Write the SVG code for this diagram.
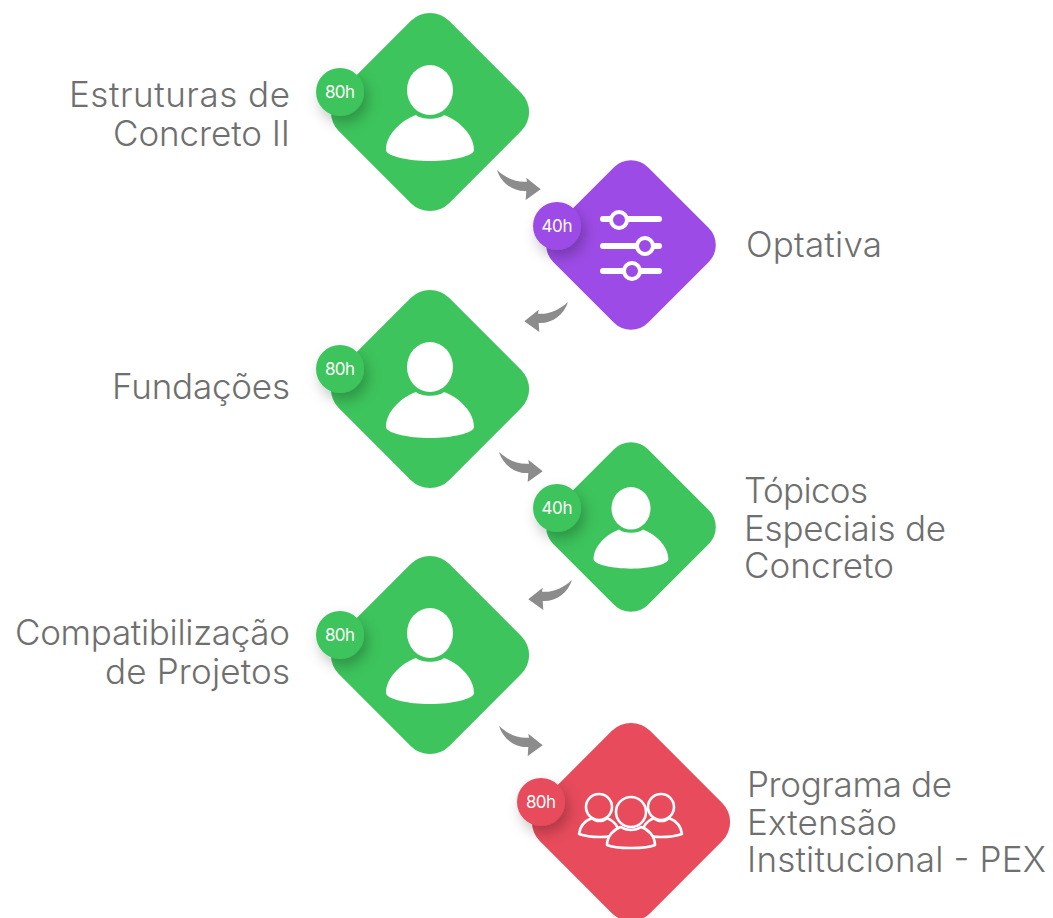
<svg xmlns="http://www.w3.org/2000/svg" xmlns:xlink="http://www.w3.org/1999/xlink" width="1053" height="918" viewBox="0 0 1053 918">
<style>
.lbl{font-family:"Inter","Liberation Sans",sans-serif;font-weight:300;font-size:35px;fill:#6f6f6f}
.r{text-anchor:end}
.bt{font-family:"Inter","Liberation Sans",sans-serif;font-weight:400;font-size:17px;fill:#fff;text-anchor:middle}
.green{fill:#3dc45c}.purple{fill:#9d4be6}.red{fill:#e84b5b}
.w{fill:#fff}
.sl{stroke:#fff;stroke-width:6;stroke-linecap:round;fill:none}
.kn{fill:#9d4be6;stroke:#fff;stroke-width:4}
.gp{stroke:#fff;stroke-width:2.6;fill:#e84b5b;stroke-linejoin:round}
</style>
<defs>
<filter id="sh" x="-50%" y="-50%" width="220%" height="220%"><feDropShadow dx="4" dy="7" stdDeviation="7" flood-color="#000" flood-opacity="0.25"/></filter>
<path id="arrow" fill="#8c8c8c" d="M0,0C9.3,8.3 19.3,12.7 30,11.7L29.3,7.7L43.7,19.3L28.7,30L29.3,21C16,21.7 4.3,13.3 0,0Z"/>
<g id="person">
<ellipse cx="0" cy="-22" rx="23" ry="25" class="w"/>
<path class="w" d="M-44,38C-44,22 -28,8 -14,3C-8,8 8,8 14,3C28,8 44,22 44,38C44,44 22,49 0,49C-22,49 -44,44 -44,38Z"/>
</g>
</defs>
<g id="connectors">
<use xlink:href="#arrow" href="#arrow" transform="translate(497,170)"/>
<use xlink:href="#arrow" href="#arrow" transform="translate(568,302) scale(-1,1)"/>
<use xlink:href="#arrow" href="#arrow" transform="translate(499,452)"/>
<use xlink:href="#arrow" href="#arrow" transform="translate(572,580) scale(-1,1)"/>
<use xlink:href="#arrow" href="#arrow" transform="translate(499,726)"/>
</g>
<g id="node-estruturas">
<rect class="green" x="-78" y="-78" width="156" height="156" rx="27" transform="translate(430,112) rotate(45)"/>
<use xlink:href="#person" href="#person" transform="translate(430,112)"/>
<circle class="green" cx="340" cy="92" r="24" filter="url(#sh)"/>
<text class="bt" x="340" y="98" textLength="30">80h</text>
<text class="lbl" x="69" y="107" textLength="221">Estruturas de</text>
<text class="lbl" x="113" y="146" textLength="177">Concreto II</text>
</g>
<g id="node-optativa">
<rect class="purple" x="-67" y="-67" width="134" height="134" rx="24" transform="translate(631,245) rotate(45)"/>
<path class="sl" d="M603,219H659M603,246H659M603,271H659"/>
<circle class="kn" cx="619" cy="220" r="8"/>
<circle class="kn" cx="645" cy="246" r="8"/>
<circle class="kn" cx="632" cy="271" r="8"/>
<circle class="purple" cx="557" cy="226" r="24" filter="url(#sh)"/>
<text class="bt" x="557" y="232" textLength="31">40h</text>
<text class="lbl" x="746" y="257" textLength="136">Optativa</text>
</g>
<g id="node-fundacoes">
<rect class="green" x="-78" y="-78" width="156" height="156" rx="27" transform="translate(430,389) rotate(45)"/>
<use xlink:href="#person" href="#person" transform="translate(430,389)"/>
<circle class="green" cx="340" cy="369" r="24" filter="url(#sh)"/>
<text class="bt" x="340" y="375" textLength="30">80h</text>
<text class="lbl" x="112" y="399" textLength="178">Fundações</text>
</g>
<g id="node-topicos">
<rect class="green" x="-67" y="-67" width="134" height="134" rx="24" transform="translate(631,527) rotate(45)"/>
<use xlink:href="#person" href="#person" transform="translate(631,527) scale(0.85)"/>
<circle class="green" cx="557" cy="508" r="24" filter="url(#sh)"/>
<text class="bt" x="557" y="514" textLength="31">40h</text>
<text class="lbl" x="744" y="503" textLength="124">Tópicos</text>
<text class="lbl" x="744" y="541" textLength="202">Especiais de</text>
<text class="lbl" x="744" y="578" textLength="150">Concreto</text>
</g>
<g id="node-compatibilizacao">
<rect class="green" x="-78" y="-78" width="156" height="156" rx="27" transform="translate(430,655) rotate(45)"/>
<use xlink:href="#person" href="#person" transform="translate(430,655)"/>
<circle class="green" cx="340" cy="635" r="24" filter="url(#sh)"/>
<text class="bt" x="340" y="641" textLength="30">80h</text>
<text class="lbl" x="15" y="645" textLength="275">Compatibilização</text>
<text class="lbl" x="105" y="684" textLength="185">de Projetos</text>
</g>
<g id="node-pex">
<rect class="red" x="-78" y="-78" width="156" height="156" rx="27" transform="translate(631,822) rotate(45)"/>
<g class="gp">
<circle cx="599" cy="807" r="13"/>
<circle cx="661" cy="807" r="13"/>
<path d="M579,834C580,825 587,820 592,818C596,822 603,822 607,818C612,820 618,825 620,834C610,838 590,838 579,834Z"/>
<path d="M682,834C681,825 674,820 669,818C665,822 658,822 654,818C649,820 643,825 641,834C651,838 671,838 682,834Z"/>
<circle cx="631" cy="812" r="15"/>
<path d="M607,845C607,836 614,829 621,827C627,831 635,831 641,827C648,829 655,836 655,845C647,849 615,849 607,845Z"/>
</g>
<circle class="red" cx="541" cy="802" r="24" filter="url(#sh)"/>
<text class="bt" x="541" y="808" textLength="30">80h</text>
<text class="lbl" x="747" y="797" textLength="205">Programa de</text>
<text class="lbl" x="747" y="835" textLength="150">Extensão</text>
<text class="lbl" x="747" y="872" textLength="299">Institucional - PEX</text>
</g>
</svg>
